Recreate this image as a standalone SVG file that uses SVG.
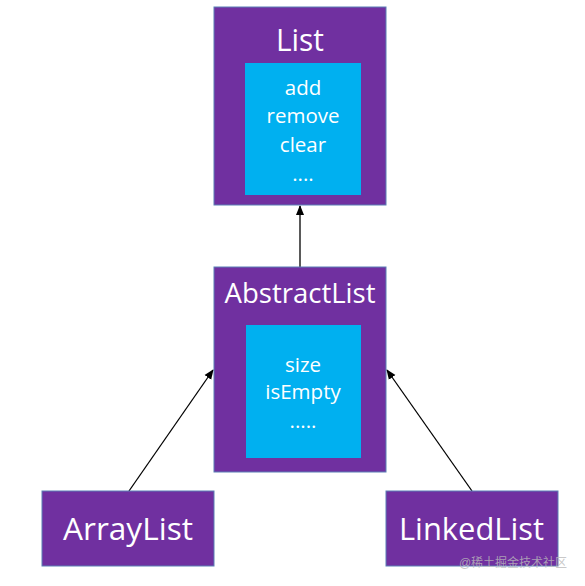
<svg xmlns="http://www.w3.org/2000/svg" width="585" height="586" viewBox="0 0 585 586">
<defs>
<marker id="arr" markerWidth="10" markerHeight="10" refX="9" refY="5" orient="auto" markerUnits="userSpaceOnUse">
<path d="M0,1 L10,5 L0,9 Z" fill="#000"/>
</marker>
<style>
.outer{fill:#7030A0;stroke:#5B7FB5;stroke-width:1}
.inner{fill:#00B0F0}
.t{font-family:"Open Sans","Liberation Sans",sans-serif;fill:#fff;text-anchor:middle}
.big{font-size:31px}
.mid{font-size:28px}
.small{font-size:20.5px}
.edge{stroke:#000;stroke-width:1.3;fill:none}
</style>
</defs>
<rect width="585" height="586" fill="#fff"/>
<g id="connectors">
<line class="edge" x1="300" y1="267" x2="300" y2="206" marker-end="url(#arr)"/>
<line class="edge" x1="129" y1="491" x2="213" y2="370" marker-end="url(#arr)"/>
<line class="edge" x1="472" y1="491" x2="387" y2="370" marker-end="url(#arr)"/>
</g>
<g id="List">
<rect class="outer" x="214" y="7" width="172" height="198"/>
<text class="t big" x="300" y="51" textLength="48" lengthAdjust="spacingAndGlyphs">List</text>
<rect class="inner" x="245" y="63" width="116" height="132"/>
<text class="t small" x="303" y="95">add</text>
<text class="t small" x="303" y="123">remove</text>
<text class="t small" x="303" y="152">clear</text>
<text class="t small" x="303" y="181">....</text>
</g>
<g id="AbstractList">
<rect class="outer" x="214" y="267" width="172" height="205"/>
<text class="t mid" x="300" y="303" textLength="151" lengthAdjust="spacingAndGlyphs">AbstractList</text>
<rect class="inner" x="246" y="325" width="115" height="133"/>
<text class="t small" x="303" y="372">size</text>
<text class="t small" x="303" y="399">isEmpty</text>
<text class="t small" x="303" y="428">.....</text>
</g>
<g id="ArrayList">
<rect class="outer" x="42" y="491" width="172" height="75"/>
<text class="t big" x="128" y="540" textLength="130" lengthAdjust="spacingAndGlyphs">ArrayList</text>
</g>
<g id="LinkedList">
<rect class="outer" x="386" y="491" width="172" height="75"/>
<text class="t big" x="471.5" y="540" textLength="145" lengthAdjust="spacingAndGlyphs">LinkedList</text>
</g>
<text x="513" y="567" font-family="'Liberation Sans','Noto Sans CJK SC',sans-serif" font-size="12" fill="#bbb" fill-opacity="0.8" text-anchor="middle">@稀土掘金技术社区</text>
</svg>
